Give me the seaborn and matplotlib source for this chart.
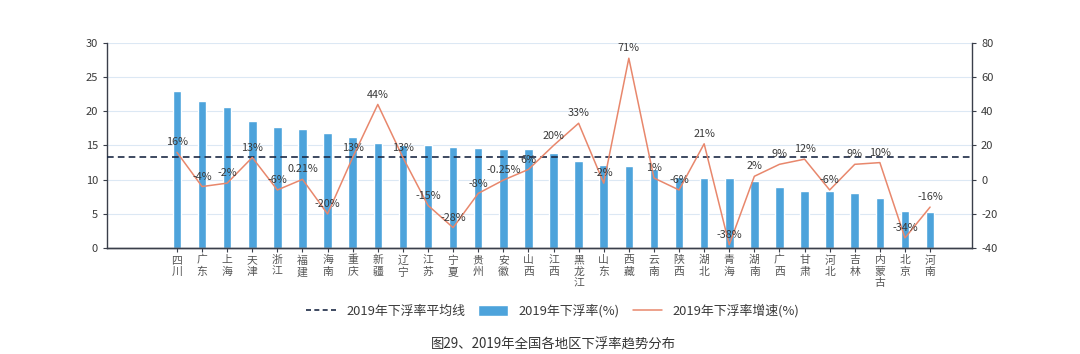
import numpy as np
import pandas as pd
import matplotlib
matplotlib.use("Agg")
import matplotlib.pyplot as plt
import seaborn as sns
from matplotlib.lines import Line2D
from matplotlib.patches import Patch

# data
provinces = ["四川", "广东", "上海", "天津", "浙江", "福建", "海南", "重庆", "新疆", "辽宁",
             "江苏", "宁夏", "贵州", "安徽", "山西", "江西", "黑龙江", "山东", "西藏", "云南",
             "陕西", "湖北", "青海", "湖南", "广西", "甘肃", "河北", "吉林", "内蒙古", "北京", "河南"]
rate_2019 = [23.0, 21.45, 20.6, 18.6, 17.65, 17.4, 16.8, 16.3, 15.3, 15.1,
             15.0, 14.85, 14.65, 14.5, 14.45, 13.85, 12.75, 12.15, 11.95, 11.6,
             10.4, 10.3, 10.3, 9.8, 8.9, 8.4, 8.35, 8.0, 7.3, 5.45, 5.35]
growth_2019 = [16, -4, -2, 13, -6, 0.21, -20, 13, 44, 13,
               -15, -28, -8, -0.25, 6, 20, 33, -2, 71, 1,
               -6, 21, -38, 2, 9, 12, -6, 9, 10, -34, -16]
growth_labels = ["16%", "-4%", "-2%", "13%", "-6%", "0.21%", "-20%", "13%", "44%", "13%",
                 "-15%", "-28%", "-8%", "-0.25%", "6%", "20%", "33%", "-2%", "71%", "1%",
                 "-6%", "21%", "-38%", "2%", "9%", "12%", "-6%", "9%", "10%", "-34%", "-16%"]
avg_rate = 13.3

df = pd.DataFrame({"省份": provinces, "下浮率": rate_2019, "增速": growth_2019})
df["pos"] = np.arange(len(df))

sns.set_theme(style="white")
plt.rcParams["font.family"] = ["Noto Sans CJK SC", "DejaVu Sans"]
plt.rcParams["axes.unicode_minus"] = False

bar_color = "#4DA3DB"
line_color = "#E8876C"
axis_color = "#3A3F4A"
text_color = "#3A3A3A"

fig, ax = plt.subplots(figsize=(10.8, 3.54), dpi=100)
fig.subplots_adjust(left=0.099, right=0.9, top=0.879, bottom=0.299)

sns.barplot(data=df, x="pos", y="下浮率", color=bar_color, width=0.34,
            saturation=1, native_scale=True, ax=ax, zorder=2)
ax.axhline(avg_rate, color="#1C2A45", linestyle=(0, (4, 2.5)), linewidth=1.2, zorder=4)

ax.set_ylim(0, 30)
ax.set_yticks(np.arange(0, 31, 5))
ax.set_xlim(-2.79, len(df) - 1 + 1.67)
ax.set_xticks(df["pos"])
ax.set_xticklabels(["\n".join(p) for p in provinces], fontsize=7.8, color="#555555",
                   linespacing=1.2)
ax.set_xlabel("")
ax.set_ylabel("")
ax.grid(axis="y", color="#DCE8F4", linewidth=0.8, zorder=0)
ax.set_axisbelow(True)

ax2 = ax.twinx()
sns.lineplot(data=df, x="pos", y="增速", color=line_color, linewidth=1.1, ax=ax2, zorder=3)
ax2.set_ylim(-40, 80)
ax2.set_yticks(np.arange(-40, 81, 20))
ax2.set_ylabel("")
ax2.set_xlabel("")
for x, y, lab in zip(df["pos"], growth_2019, growth_labels):
    ax2.annotate(lab, (x, y), xytext=(0, 3.5), textcoords="offset points",
                 ha="center", va="bottom", fontsize=7.8, color=text_color, zorder=5)

for a in (ax, ax2):
    a.spines["top"].set_visible(False)
    for s in ("left", "right", "bottom"):
        a.spines[s].set_color(axis_color)
        a.spines[s].set_linewidth(1.0)
    a.tick_params(axis="y", labelsize=8, colors=text_color, length=3, width=0.8,
                  color=axis_color)
ax.spines["right"].set_visible(False)
ax2.spines["left"].set_visible(False)
ax.tick_params(axis="y", left=True)
ax2.tick_params(axis="y", right=True)
ax.tick_params(axis="x", bottom=True, length=3, width=0.8, color=axis_color, pad=2)

handles = [
    Line2D([], [], color="#1C2A45", linestyle=(0, (3, 2)), linewidth=1.2),
    Patch(facecolor=bar_color),
    Line2D([], [], color=line_color, linewidth=1.1),
]
labels = ["2019年下浮率平均线", "2019年下浮率(%)", "2019年下浮率增速(%)"]
fig.legend(handles, labels, loc="center", bbox_to_anchor=(0.512, 0.121), ncol=3,
           frameon=False, fontsize=9.3, handlelength=2.3, handleheight=0.9,
           handletextpad=0.8, columnspacing=1.0, labelcolor=text_color)

fig.text(0.512, 0.027, "图29、2019年全国各地区下浮率趋势分布", ha="center", va="center",
         fontsize=9.6, color="#333333")

fig.savefig("out.png", dpi=100, facecolor="white")
